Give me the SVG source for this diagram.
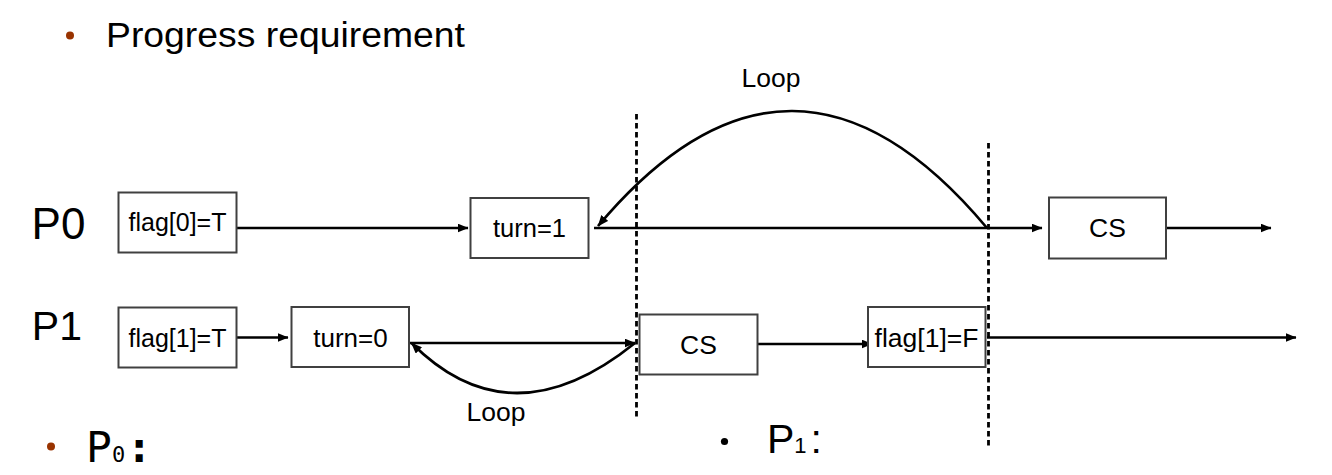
<svg xmlns="http://www.w3.org/2000/svg" width="1332" height="475" viewBox="0 0 1332 475">
<defs>
<marker id="ah" markerUnits="userSpaceOnUse" markerWidth="11" markerHeight="9" refX="10.5" refY="4.5" orient="auto">
<path d="M0,0 L11,4.5 L0,9 z" fill="#000"/>
</marker>
<style>
.box{fill:#fff;stroke:#404040;stroke-width:2}
.lbl{font-family:"Liberation Sans",Arial,sans-serif;fill:#000;text-anchor:middle}
.big{font-family:"Liberation Sans",Arial,sans-serif;fill:#000}
.ln{fill:none;stroke:#000;stroke-width:2.7}
.arr{marker-end:url(#ah)}
.dash{stroke:#000;stroke-width:2.8;stroke-dasharray:5.5 3.5;fill:none}
</style>
</defs>
<rect width="1332" height="475" fill="#fff"/>

<g id="title">
<circle cx="70" cy="35.5" r="4" fill="#993300"/>
<text class="big" x="106" y="47" font-size="35" textLength="359" lengthAdjust="spacingAndGlyphs">Progress requirement</text>
</g>

<g id="labels">
<text class="big" x="31.6" y="238.5" font-size="44">P0</text>
<text class="big" x="31.8" y="340" font-size="41">P1</text>
<text class="lbl" x="771" y="87" font-size="26.5">Loop</text>
<text class="lbl" x="496" y="421" font-size="26.5">Loop</text>
</g>

<g id="dividers">
<line class="dash" x1="636.5" y1="114" x2="636.5" y2="418"/>
<line class="dash" x1="988.5" y1="143" x2="988.5" y2="447"/>
</g>

<g id="connectors">
<line class="ln arr" x1="237" y1="228" x2="468" y2="228"/>
<line class="ln arr" x1="594" y1="228" x2="1042" y2="228"/>
<path class="ln arr" d="M 987 228 Q 792 -5 598 226"/>
<line class="ln arr" x1="1166" y1="228" x2="1271" y2="228"/>
<line class="ln arr" x1="237" y1="337.5" x2="288" y2="337.5"/>
<line class="ln arr" x1="409" y1="343" x2="635" y2="343"/>
<path class="ln arr" d="M 635 343 Q 511 443 411.5 343"/>
<line class="ln arr" x1="755" y1="344" x2="872" y2="344"/>
<line class="ln arr" x1="987" y1="337.5" x2="1296" y2="337.5"/>
</g>

<g id="n-flag0T">
<rect class="box" x="118.5" y="192.5" width="118" height="60"/>
<text class="lbl" x="177.5" y="231" font-size="25">flag[0]=T</text>
</g>
<g id="n-turn1">
<rect class="box" x="470.5" y="198" width="118" height="60"/>
<text class="lbl" x="529.5" y="237" font-size="25.5">turn=1</text>
</g>
<g id="n-cs0">
<rect class="box" x="1049" y="197.5" width="117" height="61"/>
<text class="lbl" x="1107.5" y="237" font-size="26.5">CS</text>
</g>
<g id="n-flag1T">
<rect class="box" x="118.5" y="307.5" width="118" height="60"/>
<text class="lbl" x="177.5" y="346.5" font-size="25">flag[1]=T</text>
</g>
<g id="n-turn0">
<rect class="box" x="291.5" y="307" width="117.5" height="60"/>
<text class="lbl" x="350.5" y="346.5" font-size="26">turn=0</text>
</g>
<g id="n-cs1">
<rect class="box" x="639.5" y="314.5" width="118" height="60"/>
<text class="lbl" x="698.5" y="353.5" font-size="26.5">CS</text>
</g>
<g id="n-flag1F">
<rect class="box" x="868" y="307" width="117.5" height="60"/>
<text class="lbl" x="926.5" y="346.5" font-size="26.5">flag[1]=F</text>
</g>

<g id="bottom">
<circle cx="51" cy="446.5" r="4" fill="#993300"/>
<text x="86" y="461.5" font-family="'DejaVu Sans Mono',monospace" font-size="43" fill="#000">P<tspan font-size="22">0</tspan><tspan dx="1" font-weight="bold">:</tspan></text>
<circle cx="724.5" cy="441.5" r="3.6" fill="#000"/>
<text x="767" y="452.5" font-family="'Liberation Sans',Arial,sans-serif" font-size="41" fill="#000">P<tspan font-size="22">1</tspan><tspan dx="4">:</tspan></text>
</g>
</svg>
